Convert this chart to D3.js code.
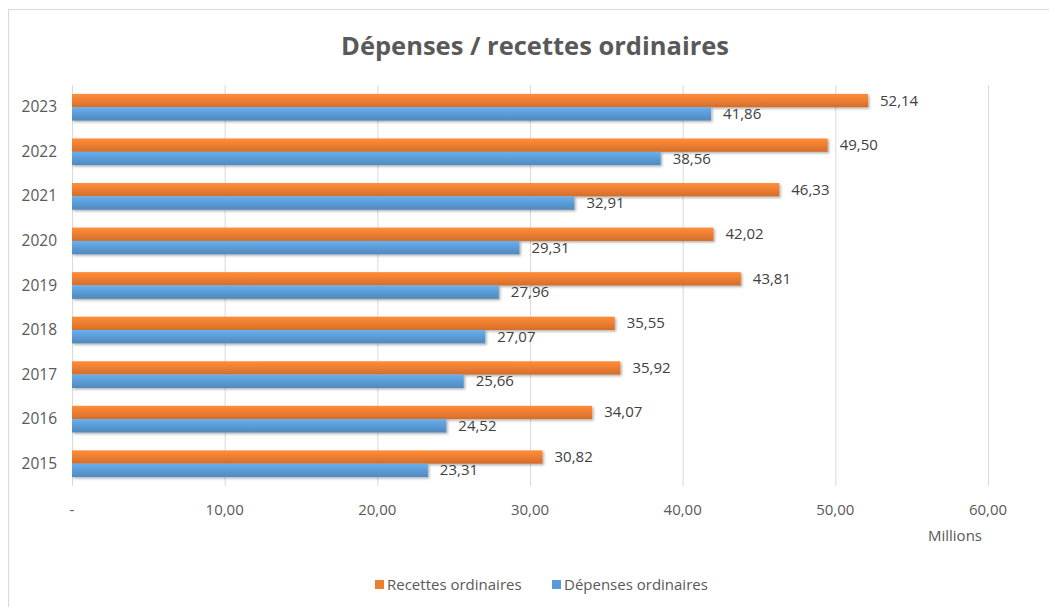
<!DOCTYPE html>
<html lang="fr">
<head>
<meta charset="UTF-8">
<title>Dépenses / recettes ordinaires</title>
<style>
body { margin: 0; background: #fff; }
#chart text { font-family: "Open Sans", "Liberation Sans", sans-serif; }
.axis path { display: none; }
.axis line { stroke: #d9d9d9; }
</style>
</head>
<body>
<div id="chart"></div>
<script src="https://cdnjs.cloudflare.com/ajax/libs/d3/7.8.5/d3.min.js"></script>
<script>
var years = ["2015", "2016", "2017", "2018", "2019", "2020", "2021", "2022", "2023"];
var recettes = [30.82, 34.07, 35.92, 35.55, 43.81, 42.02, 46.33, 49.50, 52.14];
var depenses = [23.31, 24.52, 25.66, 27.07, 27.96, 29.31, 32.91, 38.56, 41.86];
var xTicks = [0, 10, 20, 30, 40, 50, 60];
var seriesNames = ["Recettes ordinaires", "Dépenses ordinaires"];
var colors = ["#ed7d31", "#5b9bd5"];

var W = 1049, H = 607;
var margin = { top: 85, right: 61, bottom: 121, left: 72 };

var svg = d3.select("#chart").append("svg")
  .attr("width", W).attr("height", H);

// frame
svg.append("rect")
  .attr("x", 8.5).attr("y", 9.5)
  .attr("width", W + 10).attr("height", H + 10)
  .attr("fill", "#fff").attr("stroke", "#d9d9d9");

var defs = svg.append("defs");
colors.forEach(function (c, i) {
  var g = defs.append("linearGradient").attr("id", "grad" + i)
    .attr("x1", 0).attr("y1", 0).attr("x2", 0).attr("y2", 1);
  g.append("stop").attr("offset", "0%").attr("stop-color", d3.color(c).brighter(0.35));
  g.append("stop").attr("offset", "50%").attr("stop-color", c);
  g.append("stop").attr("offset", "100%").attr("stop-color", d3.color(c).darker(0.35));
});
var f = defs.append("filter").attr("id", "shadow")
  .attr("x", "-5%").attr("y", "-30%").attr("width", "110%").attr("height", "180%");
f.append("feDropShadow").attr("dx", 1.5).attr("dy", 1.5).attr("stdDeviation", 1.2)
  .attr("flood-color", "#000").attr("flood-opacity", 0.3);

svg.append("text")
  .attr("x", 535).attr("y", 55)
  .attr("text-anchor", "middle")
  .attr("font-size", "25.5px").attr("font-weight", "bold")
  .attr("fill", "#595959")
  .text("Dépenses / recettes ordinaires");

var innerW = W - margin.left - margin.right;
var innerH = H - margin.top - margin.bottom;

var g = svg.append("g")
  .attr("transform", "translate(" + margin.left + "," + margin.top + ")");

var x = d3.scaleLinear().domain([0, 60]).range([0, innerW]);
var y = d3.scaleBand().domain(years.slice().reverse()).range([0, innerH]).paddingInner(0.4).paddingOuter(0.2);
var y1 = d3.scaleBand().domain([0, 1]).range([0, y.bandwidth()]);

// vertical gridlines
g.append("g").attr("class", "axis")
  .call(d3.axisBottom(x).tickValues(xTicks).tickSize(innerH).tickFormat(""));

// x tick labels
g.append("g").selectAll("text").data(xTicks).join("text")
  .attr("x", function (d) { return x(d); })
  .attr("y", innerH + 29)
  .attr("text-anchor", "middle")
  .attr("font-size", "15px").attr("fill", "#595959")
  .text(function (d) { return d === 0 ? "-" : d3.format(".2f")(d).replace(".", ","); });

g.append("text")
  .attr("x", 883).attr("y", innerH + 55)
  .attr("text-anchor", "middle")
  .attr("font-size", "15px").attr("fill", "#595959")
  .text("Millions");

// year labels
g.append("g").selectAll("text").data(years).join("text")
  .attr("x", -15)
  .attr("y", function (d) { return y(d) + y.bandwidth() / 2 + 5; })
  .attr("text-anchor", "end")
  .attr("font-size", "15.5px").attr("fill", "#595959")
  .text(function (d) { return d; });

var series = [recettes, depenses];
series.forEach(function (vals, s) {
  var grp = g.append("g");
  grp.selectAll("rect").data(vals).join("rect")
    .attr("x", 0)
    .attr("y", function (d, i) { return y(years[i]) + y1(s); })
    .attr("width", function (d) { return x(d); })
    .attr("height", y1.bandwidth())
    .attr("fill", "url(#grad" + s + ")")
    .attr("filter", "url(#shadow)");
  grp.selectAll("text").data(vals).join("text")
    .attr("x", function (d) { return x(d) + 12; })
    .attr("y", function (d, i) { return y(years[i]) + y1(s) + y1.bandwidth() / 2 + 5; })
    .attr("font-size", "15px").attr("fill", "#404040")
    .text(function (d) { return d3.format(".2f")(d).replace(".", ","); });
});

// legend
var legendX = [375, 552];
seriesNames.forEach(function (name, i) {
  svg.append("rect")
    .attr("x", legendX[i]).attr("y", 580)
    .attr("width", 9).attr("height", 9)
    .attr("fill", colors[i]);
  svg.append("text")
    .attr("x", legendX[i] + 12).attr("y", 590)
    .attr("font-size", "15px").attr("fill", "#595959")
    .text(name);
});
</script>
</body>
</html>
